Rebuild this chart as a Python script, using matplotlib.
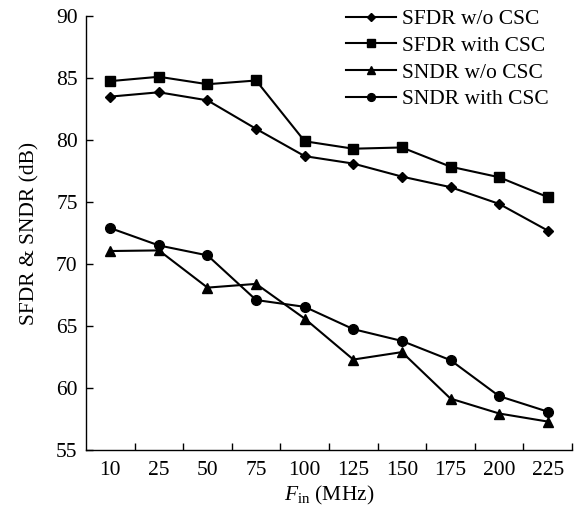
import matplotlib
matplotlib.use("Agg")
import matplotlib.pyplot as plt
import numpy as np

plt.rcParams['font.family'] = ['Liberation Serif', 'DejaVu Serif']
plt.rcParams['mathtext.fontset'] = 'custom'
plt.rcParams['mathtext.rm'] = 'Liberation Serif'
plt.rcParams['mathtext.it'] = 'Liberation Serif:italic'

# input frequencies (MHz) and measured values (dB)
fin = ['10', '25', '50', '75', '100', '125', '150', '175', '200', '225']
sfdr_wo = [83.5, 83.85, 83.2, 80.9, 78.7, 78.1, 77.05, 76.2, 74.85, 72.7]
sfdr_w = [84.75, 85.1, 84.5, 84.8, 79.9, 79.3, 79.4, 77.85, 77.0, 75.4]
sndr_wo = [71.05, 71.1, 68.1, 68.4, 65.6, 62.3, 62.9, 59.15, 57.95, 57.3]
sndr_w = [72.9, 71.5, 70.7, 67.1, 66.55, 64.75, 63.8, 62.25, 59.35, 58.1]

fs = 15.5

fig = plt.figure(figsize=(5.79, 5.08), dpi=100)
ax = fig.add_axes([0.1485, 0.114, 0.8395, 0.8545])

x = np.arange(len(fin))
ax.plot(x, sfdr_wo, '-D', color='k', lw=1.5, ms=5.5, label='SFDR w/o CSC')
ax.plot(x, sfdr_w, '-s', color='k', lw=1.5, ms=7, label='SFDR with CSC')
ax.plot(x, sndr_wo, '-^', color='k', lw=1.5, ms=6.5, label='SNDR w/o CSC')
ax.plot(x, sndr_w, '-o', color='k', lw=1.5, ms=7, label='SNDR with CSC')

ax.set_xlim(-0.5, 9.5)
ax.set_ylim(55, 90)
ax.set_yticks(np.arange(55, 91, 5))
ax.set_xticks(x)
ax.set_xticklabels(fin)
ax.set_xticks(np.arange(0.5, 10, 1), minor=True)
ax.tick_params(axis='x', which='major', length=0, labelsize=fs, pad=8)
ax.tick_params(axis='x', which='minor', direction='in', length=5, width=1)
ax.tick_params(axis='y', direction='in', length=5, width=1, labelsize=fs, pad=6)

ax.spines['top'].set_visible(False)
ax.spines['right'].set_visible(False)
ax.spines['left'].set_linewidth(1)
ax.spines['bottom'].set_linewidth(1)

ax.set_xlabel(r'$F_{\mathrm{in}}$ (MHz)', fontsize=fs, labelpad=3)
ax.set_ylabel('SFDR & SNDR (dB)', fontsize=fs, labelpad=12)

ax.legend(loc='upper right', frameon=False, fontsize=fs, handlelength=2.3,
          handletextpad=0.3, labelspacing=0.3, borderaxespad=0.0,
          bbox_to_anchor=(0.97, 1.035), markerscale=0.8)

fig.savefig('out.png', dpi=100)
